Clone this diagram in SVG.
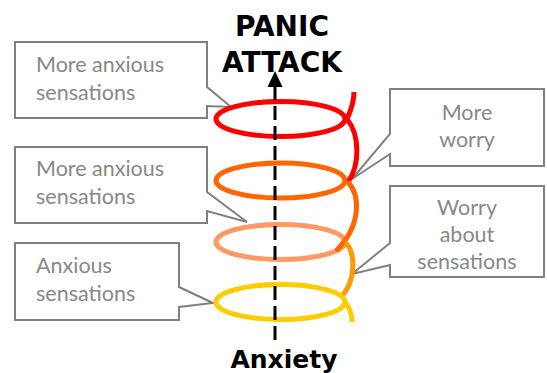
<svg xmlns="http://www.w3.org/2000/svg" width="547" height="373" viewBox="0 0 547 373">
<style>
.box{fill:#fff;stroke:#808080;stroke-width:2;stroke-linejoin:miter}
.lbl{font-family:Lato,"Open Sans","DejaVu Sans",sans-serif;font-size:21.5px;fill:#888888}
.ttl{font-family:"DejaVu Sans",Verdana,sans-serif;font-size:28px;font-weight:700;fill:#000;text-anchor:middle}
.coil{fill:none;stroke-width:5;stroke-linecap:butt}
</style>
<g id="title-panic">
<text class="ttl" x="282" y="36">PANIC</text>
<text class="ttl" x="282" y="72">ATTACK</text>
</g>
<g id="title-anxiety">
<text class="ttl" x="284" y="368" style="font-size:25px">Anxiety</text>
</g>
<g id="callout-more-anxious-1">
<path class="box" d="M15,42 H207 V87 L231,107 L207,106 V118 H15 Z"/>
<text class="lbl" x="36" y="72">More anxious</text>
<text class="lbl" x="36" y="100">sensations</text>
</g>
<g id="callout-more-anxious-2">
<path class="box" d="M15,147 H207 V192 L247,222 L207,211 V223 H15 Z"/>
<text class="lbl" x="36" y="176">More anxious</text>
<text class="lbl" x="36" y="204">sensations</text>
</g>
<g id="callout-anxious">
<path class="box" d="M15,243 H179 V287 L213,303 L179,307 V320 H15 Z"/>
<text class="lbl" x="36" y="273">Anxious</text>
<text class="lbl" x="36" y="301">sensations</text>
</g>
<g id="callout-more-worry">
<path class="box" d="M390,89 H544 V166 H390 V154 L352,179 L390,134 Z"/>
<text class="lbl" x="467" y="120" text-anchor="middle">More</text>
<text class="lbl" x="467" y="147" text-anchor="middle">worry</text>
</g>
<g id="callout-worry-about">
<path class="box" d="M390,186 H544 V277 H390 V265 L352,274 L390,243 Z"/>
<text class="lbl" x="467" y="215" text-anchor="middle">Worry</text>
<text class="lbl" x="467" y="242" text-anchor="middle">about</text>
<text class="lbl" x="467" y="269" text-anchor="middle">sensations</text>
</g>
<g id="spiral">
<ellipse class="coil" cx="280.5" cy="119" rx="64.5" ry="17.5" stroke="#FF0000"/>
<path class="coil" stroke="#FF0000" d="M354,92 C354,104 350,112 347,119 C360,135 360,165 348,182"/>
<ellipse class="coil" cx="280.5" cy="180.5" rx="64.5" ry="17.5" stroke="#FF6600"/>
<ellipse class="coil" cx="280.5" cy="242" rx="64.5" ry="17.5" stroke="#FF9966"/>
<path class="coil" stroke="#FF6600" d="M348,182 C360,195 362,225 336,251"/>
<path class="coil" stroke="#FF9900" d="M345,242 C356,252 356,282 341,297"/>
<ellipse class="coil" cx="280.5" cy="302" rx="64.5" ry="17.5" stroke="#FFCC00"/>
<path class="coil" stroke="#FFCC00" d="M345,302 C350,308 352,314 352,322"/>
</g>
<g id="connectors">
<line x1="275" y1="86" x2="275" y2="340" stroke="#000" stroke-width="3" stroke-dasharray="14 6"/>
<polygon points="275,71 267.5,87 282.5,87" fill="#000"/>
</g>
</svg>
